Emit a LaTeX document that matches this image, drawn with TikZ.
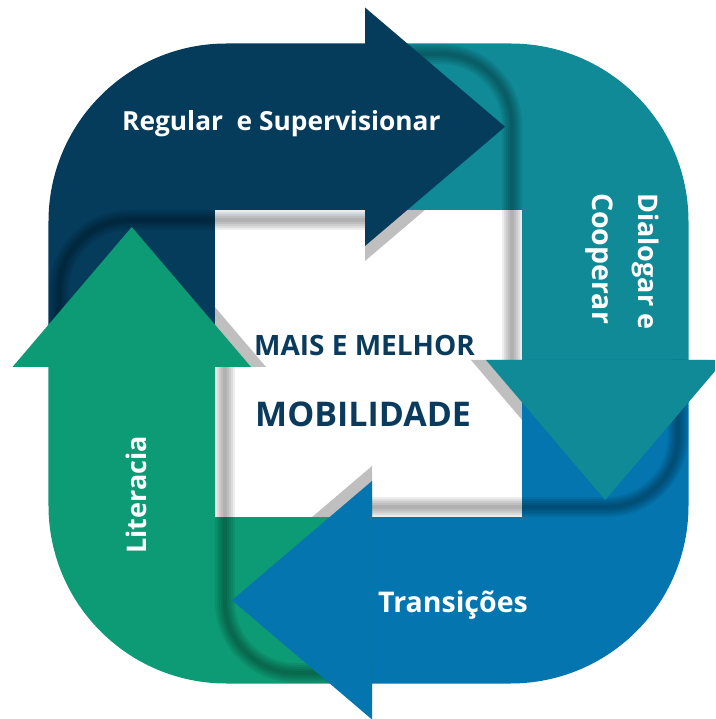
\documentclass[tikz,border=0pt]{standalone}
\usepackage{fontspec}
\setmainfont{Open Sans}
\definecolor{cnavy}{RGB}{5,60,92}
\definecolor{cteal}{RGB}{15,138,150}
\definecolor{cblue}{RGB}{4,117,175}
\definecolor{cgreen}{RGB}{13,155,117}
\definecolor{ctext}{RGB}{10,58,92}
\tikzset{
  lbl/.style={text=white, font=\fontsize{27}{32}\selectfont\bfseries, inner sep=0pt},
  ctr/.style={text=ctext, font=\fontsize{28}{34}\selectfont\bfseries, inner sep=0pt},
  headshadow/.style={fill=black!25},
}
\begin{document}
\begin{tikzpicture}[x=1pt,y=1pt]
\useasboundingbox (-368.5,-355.5) rectangle (346.5,363.5);
\clip (-368.5,-355.5) rectangle (346.5,363.5);
% arrowhead shadows
\foreach \ang in {0,-90,-180,90}{
  \fill[headshadow, rotate=\ang] (-3.5,341) -- (136.5,221.75) -- (-3.5,102.5) -- cycle;
}
% band bodies
\foreach \ang/\col in {0/cnavy,-90/cteal,-180/cblue,90/cgreen}{
  \fill[\col, rotate=\ang] (-320,-3.5) -- (-320,142) arc[start angle=180,end angle=90,radius=178]
     -- (-3.5,320) -- (-3.5,153.5) -- (-153.5,153.5) -- (-153.5,-3.5) -- cycle;
}
% fold shadows
\foreach \ang in {0,-90,-180,90}{
  \foreach \w in {20,16,12,8,4}{
    \draw[line width=\w, black, opacity=0.07, rotate=\ang] (-3.5,143.5) -- (-238.5,143.5)
       arc[start angle=90,end angle=180,radius=71] -- (-309.5,-3.5);
  }
}
% arrowheads
\foreach \ang/\col in {0/cnavy,-90/cteal,-180/cblue,90/cgreen}{
  \fill[\col, rotate=\ang] (-3.5,356) -- (136.5,236.75) -- (-3.5,117.5) -- cycle;
}
% labels
\node[lbl, anchor=base west, font=\fontsize{26.3}{31}\selectfont\bfseries] (reg) at (-246.5,232.5) {Regular\ \ e Supervisionar};
\node[lbl, anchor=base west, rotate=-90] (dia) at (269.5,170.5) {Dialogar e};
\node[lbl, anchor=base west, rotate=-90, font=\fontsize{28.5}{33}\selectfont\bfseries] (coo) at (223.5,170.5) {Cooperar};
\node[lbl, anchor=base west, font=\fontsize{28.5}{33}\selectfont\bfseries] (tra) at (9.5,-248.5) {Transições};
\node[lbl, anchor=base west, rotate=90] (lit) at (-221.5,-190.5) {Literacia};
\node[ctr, anchor=base west] (mais) at (-114.5,7.5) {MAIS E MELHOR};
\node[ctr, anchor=base west, font=\fontsize{34}{40}\selectfont\bfseries] (mob) at (-113.5,-63.5) {MOBILIDADE};
\end{tikzpicture}
\end{document}
